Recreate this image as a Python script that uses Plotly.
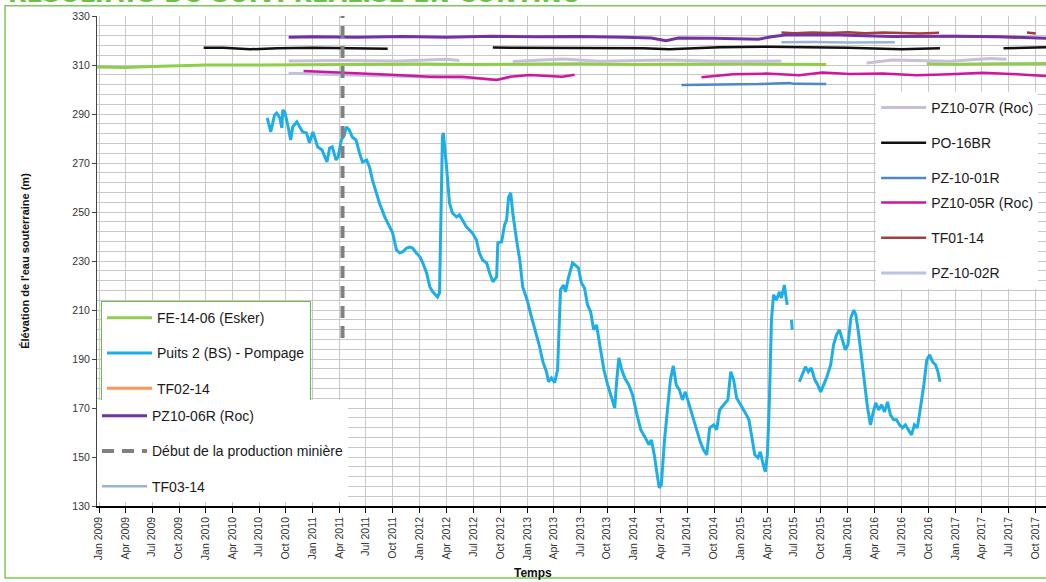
import plotly.graph_objects as go

# ---------------- data ----------------
puits_dates = [
    "2010-07-29", "2010-08-10", "2010-08-23", "2010-08-30", "2010-09-10", "2010-09-17", "2010-09-20", "2010-09-27", "2010-10-07", "2010-10-17",
    "2010-10-24", "2010-11-07", "2010-11-17", "2010-11-27", "2010-12-10", "2010-12-20", "2011-01-01", "2011-01-07", "2011-01-17", "2011-02-01",
    "2011-02-11", "2011-02-18", "2011-02-27", "2011-03-08", "2011-03-21", "2011-03-28", "2011-04-08", "2011-04-18", "2011-04-25", "2011-05-05",
    "2011-05-15", "2011-05-28", "2011-06-09", "2011-06-19", "2011-07-03", "2011-07-13", "2011-07-23", "2011-08-06", "2011-08-16", "2011-09-03",
    "2011-09-20", "2011-09-30", "2011-10-13", "2011-10-24", "2011-11-03", "2011-11-17", "2011-11-27", "2011-12-07", "2011-12-20", "2012-01-01",
    "2012-01-11", "2012-01-24", "2012-02-04", "2012-02-14", "2012-03-01", "2012-03-08", "2012-03-18", "2012-03-21", "2012-04-01", "2012-04-11",
    "2012-04-21", "2012-05-05", "2012-05-15", "2012-05-25", "2012-06-08", "2012-06-18", "2012-06-28", "2012-07-12", "2012-07-22", "2012-08-02",
    "2012-08-16", "2012-08-26", "2012-09-06", "2012-09-19", "2012-09-23", "2012-10-06", "2012-10-16", "2012-10-23", "2012-10-30", "2012-11-06",
    "2012-11-13", "2012-11-26", "2012-12-07", "2012-12-17", "2013-01-01", "2013-01-14", "2013-01-28", "2013-02-11", "2013-02-24", "2013-03-08",
    "2013-03-15", "2013-03-25", "2013-04-05", "2013-04-15", "2013-04-25", "2013-05-05", "2013-05-12", "2013-05-22", "2013-06-05", "2013-06-15",
    "2013-06-25", "2013-07-05", "2013-07-16", "2013-07-26", "2013-08-06", "2013-08-16", "2013-08-26", "2013-09-06", "2013-09-20", "2013-10-03",
    "2013-10-17", "2013-10-27", "2013-11-03", "2013-11-10", "2013-11-20", "2013-11-30", "2013-12-14", "2013-12-27", "2014-01-11", "2014-01-24",
    "2014-02-07", "2014-02-21", "2014-03-01", "2014-03-11", "2014-03-21", "2014-03-28", "2014-04-04", "2014-04-15", "2014-04-25", "2014-05-05",
    "2014-05-15", "2014-05-25", "2014-06-05", "2014-06-15", "2014-06-25", "2014-07-05", "2014-07-19", "2014-08-02", "2014-08-15", "2014-08-26",
    "2014-09-06", "2014-09-16", "2014-09-30", "2014-10-10", "2014-10-20", "2014-11-03", "2014-11-17", "2014-11-27", "2014-12-07", "2014-12-17",
    "2015-01-01", "2015-01-14", "2015-01-28", "2015-02-07", "2015-02-17", "2015-02-28", "2015-03-08", "2015-03-18", "2015-03-25", "2015-04-01",
    "2015-04-08", "2015-04-15", "2015-04-22", "2015-05-02", "2015-05-12", "2015-05-19", "2015-05-29", "2015-06-05", "2015-06-08", "2015-06-15",
    "2015-06-22", "2015-06-25", "2015-07-10", "2015-07-19", "2015-07-29", "2015-08-09", "2015-08-19", "2015-08-29", "2015-09-10", "2015-09-20",
    "2015-09-30", "2015-10-10", "2015-10-20", "2015-11-03", "2015-11-13", "2015-11-23", "2015-12-03", "2015-12-13", "2015-12-23", "2016-01-01",
    "2016-01-11", "2016-01-21", "2016-01-28", "2016-02-07", "2016-02-17", "2016-02-28", "2016-03-08", "2016-03-18", "2016-03-25", "2016-04-05",
    "2016-04-15", "2016-04-25", "2016-05-05", "2016-05-15", "2016-05-25", "2016-06-05", "2016-06-15", "2016-06-25", "2016-07-05", "2016-07-15",
    "2016-07-25", "2016-08-05", "2016-08-15", "2016-08-25", "2016-09-06", "2016-09-16", "2016-09-26", "2016-10-06", "2016-10-16", "2016-10-26",
    "2016-11-03", "2016-11-10",
]
puits_vals = [
    288.4, 282.7, 289.6, 290.4, 288.4, 284.3, 291.6, 290.8, 285.5, 279.4,
    284.7, 286.8, 284.7, 282.7, 282.3, 278.2, 282.7, 280.6, 276.6, 275.3,
    272.1, 270.4, 276.1, 276.6, 271.2, 272.5, 279.4, 281.4, 284.7, 283.5,
    280.6, 279.4, 274.1, 270.4, 271.2, 268.4, 263.1, 257.8, 253.7, 248.0,
    243.9, 241.5, 234.5, 233.3, 233.7, 235.3, 235.7, 235.3, 233.3, 231.7,
    229.2, 225.1, 219.4, 217.4, 215.3, 217.0, 280.6, 282.3, 268.4, 253.7,
    249.6, 248.0, 248.8, 246.8, 243.9, 242.7, 241.5, 238.6, 233.3, 230.4,
    229.2, 225.1, 221.5, 223.5, 237.4, 237.8, 244.7, 246.8, 256.2, 257.8,
    249.6, 238.6, 230.4, 219.4, 214.1, 208.0, 201.9, 195.8, 188.8, 184.8,
    180.7, 182.3, 180.3, 185.6, 218.2, 220.2, 217.4, 223.1, 229.2, 228.0,
    227.2, 221.1, 219.0, 212.1, 209.2, 201.9, 203.9, 195.8, 185.6, 179.4,
    174.1, 170.0, 181.5, 190.5, 185.6, 182.3, 179.4, 175.3, 167.2, 161.1,
    158.2, 155.0, 157.0, 150.9, 142.7, 137.4, 138.6, 157.0, 169.2, 181.5,
    187.2, 179.4, 177.4, 173.3, 176.6, 172.5, 167.2, 161.9, 156.2, 152.9,
    150.9, 161.9, 163.1, 161.1, 169.2, 171.3, 173.3, 184.8, 181.5, 174.1,
    171.3, 168.4, 165.2, 157.8, 150.9, 149.7, 152.1, 146.8, 144.0, 150.9,
    173.3, 206.0, 216.2, 214.1, 217.4, 214.9, 220.2, 214.1, 212.1, None,
    206.0, 201.9, None, 180.7, 183.5, 186.8, 184.8, 186.4, 181.5, 179.4,
    176.6, 179.4, 182.3, 187.6, 195.8, 199.9, 201.9, 197.8, 193.7, 195.8,
    206.8, 210.0, 208.0, 199.9, 189.6, 179.4, 170.0, 163.1, 167.2, 172.1,
    169.2, 171.3, 168.4, 172.5, 167.2, 165.2, 165.2, 163.1, 161.9, 163.1,
    161.1, 159.0, 163.1, 161.9, 171.3, 179.4, 189.6, 191.7, 188.8, 187.6,
    184.8, 180.7,
]

fe1406_dates = ["2008-12-26", "2009-04-01", "2009-07-01", "2009-10-01", "2010-01-01", "2010-07-01", "2011-01-01",
                "2011-07-01", "2012-01-01", "2012-07-01", "2013-01-01", "2013-07-01", "2014-01-01", "2014-07-01",
                "2015-01-01", "2015-06-01", "2015-10-19", "2016-03-01", "2016-09-26", "2017-01-01", "2017-06-01", "2017-11-07"]
fe1406_vals = [309.2, 309.0, 309.4, 309.8, 310.0, 310.0, 310.2, 310.4, 310.4, 310.2, 310.3, 310.5, 310.2, 310.4,
               310.5, 310.3, 310.2, None, 310.5, 310.3, 310.5, 310.6]

pz0606_dates = ["2010-10-10", "2011-01-01", "2011-06-01", "2011-11-01", "2012-04-01", "2012-09-01", "2013-02-01",
                "2013-07-01", "2013-12-01", "2014-03-01", "2014-04-20", "2014-06-01", "2014-10-01", "2015-03-01",
                "2015-04-15", "2015-06-01", "2015-12-01", "2016-06-01", "2017-01-01", "2017-06-01", "2017-11-07"]
pz0606_vals = [321.3, 321.5, 321.3, 321.6, 321.3, 321.7, 321.5, 321.6, 321.3, 321.0, 319.9, 321.0, 320.9, 320.5,
               321.5, 322.2, 322.2, 321.6, 321.7, 321.5, 320.9]

po16_dates = ["2009-12-24", "2010-03-01", "2010-06-01", "2010-09-01", "2011-01-01", "2011-05-01", "2011-09-13",
              "2012-03-01", "2012-09-06", "2013-02-01", "2013-09-06", "2014-02-01", "2014-05-01", "2014-10-20",
              "2015-04-01", "2015-10-01", "2016-01-01", "2016-07-01", "2016-11-10", "2017-03-01", "2017-06-15", "2017-11-07"]
po16_vals = [317.0, 317.0, 316.4, 316.8, 317.0, 316.8, 316.6, None, 317.1, 317.0, 316.6, 316.8, 316.4, 317.2,
             317.5, 317.2, 317.0, 316.4, 316.8, None, 316.8, 317.2]

pz07_dates = ["2010-10-10", "2011-04-12", "2011-10-24", "2012-04-01", "2012-05-15", "2012-08-01", "2012-11-13",
              "2013-05-01", "2013-09-06", "2014-05-01", "2014-10-20", "2015-05-19", "2015-10-01", "2016-03-05",
              "2016-06-01", "2016-12-14", "2017-04-29", "2017-06-25"]
pz07_vals = [311.6, 311.8, 311.6, 312.3, 311.8, None, 311.4, 312.4, 311.5, 312.0, 311.5, 311.6, None, 310.8,
             312.0, 311.5, 312.7, 312.3]

pz02_dates = ["2010-10-10", "2011-04-12", "2011-10-24", "2012-04-11", "2012-07-22", "2012-09-19", "2012-11-03"]
pz02_vals = [306.6, 306.0, 305.3, 305.0, 304.5, 304.0, 304.8]

pz05_dates = ["2010-11-30", "2011-05-05", "2011-06-19", "2011-10-13", "2012-02-04", "2012-05-25", "2012-09-19",
              "2012-11-03", "2013-01-10", "2013-05-01", "2013-06-12", "2014-01-01", "2014-08-19", "2014-12-04",
              "2015-03-28", "2015-07-19", "2015-10-06", "2016-01-07", "2016-04-28", "2016-08-22", "2016-12-14",
              "2017-04-05", "2017-07-29", "2017-11-07"]
pz05_vals = [307.6, 306.9, 306.5, 305.9, 305.2, 305.2, 303.9, 305.2, 305.9, 305.2, 306.0, None, 305.0, 306.2,
             306.5, 305.8, 306.9, 306.3, 306.5, 305.8, 306.2, 306.8, 306.2, 305.5]

pz01_dates = ["2014-06-12", "2014-10-01", "2015-03-01", "2015-06-15", "2015-07-01", "2015-10-19"]
pz01_vals = [301.8, 302.0, 302.2, 302.7, 302.3, 302.2]

tf03_dates = ["2015-05-19", "2015-09-01", "2016-01-01", "2016-06-09"]
tf03_vals = [319.3, 319.4, 319.2, 319.3]

tf01_dates = ["2015-05-19", "2015-07-01", "2015-09-01", "2015-11-01", "2016-01-01", "2016-03-01", "2016-05-01",
              "2016-07-01", "2016-09-01", "2016-11-07", "2017-03-01", "2017-09-03", "2017-10-03"]
tf01_vals = [323.3, 323.0, 323.3, 323.1, 323.4, 323.0, 323.3, 323.1, 322.9, 323.2, None, 323.3, 322.9]

tf02_dates = ["2016-11-10", "2017-08-20"]
tf02_vals = [321.7, 321.5]

debut_dates = ["2011-04-12", "2011-04-12"]
debut_vals = [198.6, 330.0]

x_range = ["2008-12-25", "2017-11-07"]
y_range = [130, 330]

# ---------------- figure ----------------
fig = go.Figure()


def add(name, x, y, color, width, legend, rank, dash=None):
    fig.add_trace(go.Scatter(
        x=x, y=y, mode="lines", name=name,
        line=dict(color=color, width=width, dash=dash),
        legend=legend, legendgroup=name, legendrank=rank,
        connectgaps=False, hoverinfo="skip",
    ))


add("FE-14-06 (Esker)", fe1406_dates, fe1406_vals, "#8fce4c", 3, "legend", 1)
add("PZ-10-02R", pz02_dates, pz02_vals, "#bcc4dc", 3, "legend4", 12)
add("PZ10-07R (Roc)", pz07_dates, pz07_vals, "#c9bfd9", 3, "legend3", 7)
add("PZ10-05R (Roc)", pz05_dates, pz05_vals, "#d0169c", 2.5, "legend4", 10)
add("PZ-10-01R", pz01_dates, pz01_vals, "#4f87cf", 2.5, "legend3", 9)
add("TF03-14", tf03_dates, tf03_vals, "#97b3d9", 2.5, "legend2", 6)
add("TF02-14", tf02_dates, tf02_vals, "#f7975a", 3, "legend", 3)
add("TF01-14", tf01_dates, tf01_vals, "#a23f3b", 2.5, "legend4", 11)
add("PO-16BR", po16_dates, po16_vals, "#111111", 2.5, "legend3", 8)
add("PZ10-06R (Roc)", pz0606_dates, pz0606_vals, "#7232a6", 3, "legend2", 4)
add("Puits 2 (BS) - Pompage", puits_dates, puits_vals, "#1eaee6", 3, "legend", 2)
add("Début de la production minière", debut_dates, debut_vals, "#808080", 4, "legend2", 5, dash="12px,8px")

grid = "#c8c8c8"
legfont = dict(family="Liberation Sans, Arial, sans-serif", size=14, color="#1a1a1a")
leg_common = dict(font=legfont, bgcolor="white", tracegroupgap=14, itemwidth=45,
                  xanchor="left", yanchor="top", traceorder="grouped", itemclick=False)

fig.update_layout(
    width=1046, height=582,
    margin=dict(l=97, r=0, t=16, b=76),
    paper_bgcolor="white", plot_bgcolor="white",
    font=dict(family="Liberation Sans, Arial, sans-serif", size=11, color="#333333"),
    showlegend=True,
    xaxis=dict(
        type="date", range=x_range, tick0="2009-01-01", dtick="M3", tickformat="%b %Y",
        tickangle=-90, showgrid=True, gridcolor=grid, gridwidth=1, automargin=False,
        showline=True, linecolor="#000000", linewidth=1.5,
        ticks="outside", ticklen=5, tickcolor="#000000", zeroline=False,
        tickfont=dict(size=10.5, color="#333333"),
    ),
    yaxis=dict(
        range=y_range, tick0=130, dtick=20, showgrid=True, gridcolor=grid, gridwidth=1,
        showline=True, linecolor="#444444", linewidth=1, zeroline=False, automargin=False,
        ticks="outside", ticklen=4, tickcolor="#444444",
        tickfont=dict(size=10.5, color="#333333"),
        minor=dict(tick0=130, dtick=4, showgrid=True, gridcolor=grid, gridwidth=1),
        title=dict(text="<b>Élévation de l'eau souterraine (m)</b>",
                   font=dict(size=11, color="#111111"), standoff=40),
    ),
    legend=dict(**leg_common, x=0.0042, y=0.418, bordercolor="#6cc04a", borderwidth=1),
    legend2=dict(**leg_common, x=0.0, y=0.216, borderwidth=0),
    legend3=dict(**leg_common, x=0.821, y=0.845, borderwidth=0),
    legend4=dict(**leg_common, x=0.821, y=0.651, borderwidth=0),
)

# x axis title (centre of the original, uncropped axis)
fig.add_annotation(text="<b>Temps</b>", xref="paper", yref="paper", x=0.459, y=-0.137,
                   xanchor="center", yanchor="middle", showarrow=False,
                   font=dict(size=12, color="#111111"))

# cropped green heading above the frame (only its lower edge is visible, as in the source)
fig.add_annotation(text="<b>RÉSULTATS DU SUIVI RÉALISÉ EN CONTINU</b>", xref="paper", yref="paper",
                   x=-0.096, y=1.0122, xanchor="left", yanchor="bottom", showarrow=False,
                   font=dict(family="DejaVu Sans, sans-serif", size=24, color="#6cc04a"))

# green frame around the chart (its right side lies beyond the visible area)
fig.add_shape(type="rect", xref="paper", yref="paper", x0=-0.0969, x1=1.2, y0=-0.147, y1=1.021,
              line=dict(color="#7cc85a", width=1.5), fillcolor="rgba(0,0,0,0)", layer="below")

fig.write_html("out.html", config={"displayModeBar": False},
               post_script="document.body.style.margin='0';")
